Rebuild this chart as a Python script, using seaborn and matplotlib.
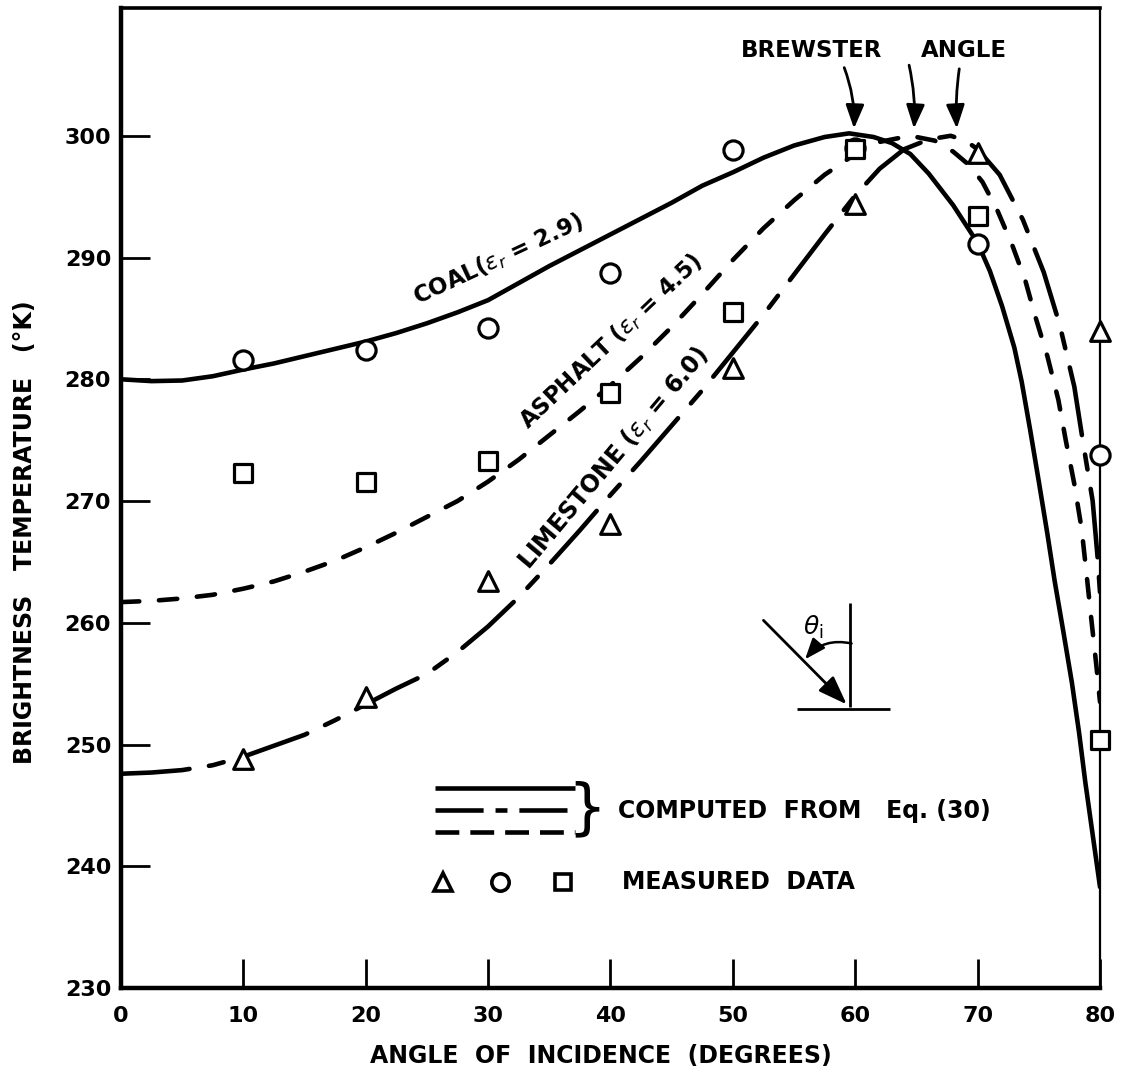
import matplotlib
matplotlib.use("Agg")
import matplotlib.pyplot as plt
from matplotlib.lines import Line2D
import seaborn as sns

# Computed brightness temperature, Eq. (30): angle of incidence (deg) -> K
coal_angle = [0, 2.5, 5, 7.5, 10, 12.5, 15, 17.5, 20, 22.5, 25, 27.5, 30, 32.5, 35,
              37.5, 40, 42.5, 45, 47.5, 50, 52.5, 55, 57.5, 59.5, 61.5, 63, 64.5, 66,
              68, 70, 71, 72, 73, 73.6, 74.3, 75, 75.7, 76.3, 77, 77.7, 78.3, 78.8,
              79.4, 80]
coal_temp = [280.0, 279.85, 279.9, 280.25, 280.8, 281.3, 281.9, 282.5, 283.1, 283.8,
             284.6, 285.5, 286.5, 287.9, 289.3, 290.6, 291.9, 293.2, 294.5, 295.9,
             297.0, 298.2, 299.2, 299.9, 300.2, 299.9, 299.4, 298.5, 296.9, 294.3,
             291.2, 288.9, 286.0, 282.6, 279.8, 275.8, 271.6, 267.3, 263.4, 259.3,
             255.1, 250.9, 246.9, 242.6, 238.3]

asphalt_angle = [0, 2.5, 5, 7.5, 10, 12.5, 15, 17.5, 20, 22.5, 25, 27.5, 30, 32.5, 35,
                 37.5, 40, 42.5, 45, 47.5, 50, 52.5, 55, 57.5, 60, 62, 64.5, 66.5, 68,
                 69.3, 70.4, 71.6, 72.8, 73.9, 74.7, 75.7, 76.6, 77.2, 77.9, 78.5, 78.9,
                 79.3, 79.7, 80]
asphalt_temp = [261.7, 261.8, 262.0, 262.3, 262.8, 263.4, 264.2, 265.1, 266.2, 267.4,
                268.7, 270.0, 271.6, 273.4, 275.4, 277.4, 279.5, 281.8, 284.3, 287.0,
                289.8, 292.4, 294.7, 296.8, 298.5, 299.5, 300.0, 299.6, 298.7, 297.6,
                296.2, 293.9, 291.1, 288.1, 285.2, 281.9, 278.3, 275.0, 271.4, 267.7,
                264.0, 260.2, 256.5, 253.5]

limestone_angle = [0, 2.5, 5, 7.5, 10, 12.5, 15, 17.5, 20, 22.5, 25, 27.5, 30, 32.5, 35,
                   37.5, 40, 42.5, 45, 47.5, 50, 52.5, 55, 57.5, 60, 62, 64, 66, 67.8,
                   69, 70, 71.8, 73.7, 75.4, 76.7, 77.9, 78.6, 79.4, 79.8, 80]
limestone_temp = [247.6, 247.7, 247.9, 248.3, 249.0, 249.9, 250.8, 252.0, 253.3, 254.6,
                  255.8, 257.6, 259.7, 262.1, 264.8, 267.6, 270.5, 273.3, 276.2, 279.1,
                  282.2, 285.3, 288.6, 291.9, 295.1, 297.3, 298.9, 299.7, 300.0, 299.6,
                  298.9, 296.8, 293.1, 288.8, 284.5, 279.4, 274.9, 270.0, 265.4, 262.5]

# Measured data
meas_angle = [10, 20, 30, 40, 50, 60, 70, 80]
coal_meas = [281.6, 282.4, 284.2, 288.7, 298.8, 299.0, 291.1, 273.8]
asphalt_meas = [272.3, 271.6, 273.3, 278.9, 285.5, 298.9, 293.4, 250.4]
limestone_meas = [248.8, 253.9, 263.4, 268.1, 280.9, 294.4, 298.6, 284.0]

x_ticks = [0, 10, 20, 30, 40, 50, 60, 70, 80]
y_ticks = [230, 240, 250, 260, 270, 280, 290, 300]

sns.set_style("white")
plt.rcParams["font.family"] = ["DejaVu Sans"]
plt.rcParams["mathtext.fontset"] = "dejavusans"
plt.rcParams["text.color"] = "black"
plt.rcParams["axes.labelcolor"] = "black"

INK = "black"
LW = 3.3
asphalt_dash = (0, (4.0, 4.3))
limestone_dash = (0, (15.0, 4.3, 3.3, 4.3))

fig = plt.figure(figsize=(11.22, 10.75), dpi=100)
ax = fig.add_axes([0.1078, 0.0809, 0.8726, 0.9117])

sns.lineplot(x=coal_angle, y=coal_temp, ax=ax, color=INK, lw=LW, sort=False,
             estimator=None, solid_capstyle="round", zorder=3)
sns.lineplot(x=asphalt_angle, y=asphalt_temp, ax=ax, color=INK, lw=LW, sort=False,
             estimator=None, linestyle=asphalt_dash, dash_capstyle="round", zorder=3)
sns.lineplot(x=limestone_angle, y=limestone_temp, ax=ax, color=INK, lw=LW, sort=False,
             estimator=None, linestyle=limestone_dash, dash_capstyle="round", zorder=3)

for vals, mk, size in [(coal_meas, "o", 190), (asphalt_meas, "s", 170),
                       (limestone_meas, "^", 200)]:
    sns.scatterplot(x=meas_angle, y=vals, ax=ax, marker=mk, s=size, color="white",
                    edgecolor=INK, linewidth=2.3, zorder=5, clip_on=False)

ax.set_xlim(0, 80)
ax.set_ylim(230, 310.5)
ax.set_xticks(x_ticks)
ax.set_yticks(y_ticks)
ax.set_xticklabels([str(v) for v in x_ticks], fontsize=16, fontweight="bold")
ax.set_yticklabels([str(v) for v in y_ticks], fontsize=16, fontweight="bold")
ax.tick_params(axis="both", direction="in", length=21, width=2.0, color=INK,
               labelcolor=INK, bottom=True, left=True, top=False, right=False)
ax.tick_params(axis="x", pad=13)
ax.tick_params(axis="y", pad=7)

for side, w in [("left", 3.2), ("bottom", 3.2), ("top", 2.6), ("right", 1.6)]:
    ax.spines[side].set_visible(True)
    ax.spines[side].set_linewidth(w)
    ax.spines[side].set_color(INK)

ax.set_xlabel("ANGLE  OF  INCIDENCE  (DEGREES)", fontsize=17, fontweight="bold",
              color=INK)
ax.xaxis.set_label_coords(0.49, -0.057)
ax.set_ylabel("BRIGHTNESS   TEMPERATURE   (°K)", fontsize=17, fontweight="bold",
              color=INK)
ax.yaxis.set_label_coords(-0.086, 0.465)

# curve labels
label_kw = dict(fontweight="bold", ha="center", va="center",
                rotation_mode="anchor", color=INK)
ax.text(30.8, 289.9, r"COAL($\epsilon_r$ = 2.9)", rotation=25, fontsize=16.5,
        **label_kw)
ax.text(40.0, 283.1, r"ASPHALT ($\epsilon_r$ = 4.5)", rotation=43.5, fontsize=16.5,
        **label_kw)
ax.text(40.3, 273.5, r"LIMESTONE ($\epsilon_r$ = 6.0)", rotation=50, fontsize=17,
        **label_kw)

# Brewster angle callouts
ax.text(56.4, 307.0, "BREWSTER", fontsize=16.5, fontweight="bold",
        ha="center", va="center", color=INK)
ax.text(68.9, 307.0, "ANGLE", fontsize=16.5, fontweight="bold",
        ha="center", va="center", color=INK)
arrow_kw = dict(arrowstyle="-|>,head_length=0.9,head_width=0.35", color=INK,
                lw=2.0, mutation_scale=16, shrinkA=0, shrinkB=0)
for (x0, y0, x1, y1, rad) in [(59.1, 305.6, 59.9, 300.6, -0.1),
                              (64.4, 305.8, 64.8, 300.6, -0.07),
                              (68.5, 305.5, 68.3, 300.6, 0.05)]:
    ax.annotate("", xy=(x1, y1), xytext=(x0, y0),
                arrowprops=dict(connectionstyle=f"arc3,rad={rad}", **arrow_kw))

# incidence-angle sketch
ax.plot([59.6, 59.6], [261.6, 253.1], color=INK, lw=2.0, solid_capstyle="butt")
ax.plot([55.2, 62.8], [252.9, 252.9], color=INK, lw=2.0, solid_capstyle="butt")
ax.annotate("", xy=(59.3, 253.3), xytext=(52.5, 260.2),
            arrowprops=dict(arrowstyle="-|>,head_length=1.1,head_width=0.4",
                            color=INK, lw=2.0, mutation_scale=16,
                            shrinkA=0, shrinkB=0))
ax.annotate("", xy=(55.9, 257.0), xytext=(59.7, 258.3),
            arrowprops=dict(arrowstyle="-|>,head_length=0.9,head_width=0.35",
                            connectionstyle="arc3,rad=0.3", color=INK, lw=1.8,
                            mutation_scale=14, shrinkA=0, shrinkB=0))
ax.text(56.6, 259.6, r"$\theta_{\rm i}$", fontsize=18, ha="center", va="center",
        color=INK)

# key
T = ax.transAxes
key_x = [0.321, 0.464]
ax.add_line(Line2D(key_x, [0.204, 0.204], transform=T, color=INK, lw=LW,
                   solid_capstyle="butt"))
ax.add_line(Line2D(key_x, [0.182, 0.182], transform=T, color=INK, lw=LW,
                   linestyle=(0, (10.5, 2.6, 2.6, 2.6)), dash_capstyle="butt"))
ax.add_line(Line2D(key_x, [0.159, 0.159], transform=T, color=INK, lw=LW,
                   linestyle=(0, (5.2, 2.4)), dash_capstyle="butt"))
ax.text(0.476, 0.182, "}", transform=T, fontsize=44, ha="center", va="center",
        color=INK)
ax.text(0.508, 0.181, "COMPUTED  FROM   Eq. (30)", transform=T, fontsize=17,
        fontweight="bold", ha="left", va="center", color=INK)
for xm, mk, ms in [(0.329, "^", 13), (0.387, "o", 12.5), (0.451, "s", 12)]:
    ax.add_line(Line2D([xm], [0.108], transform=T, marker=mk, markersize=ms,
                       markerfacecolor="white", markeredgecolor=INK,
                       markeredgewidth=2.6, linestyle="none"))
ax.text(0.512, 0.108, "MEASURED  DATA", transform=T, fontsize=17,
        fontweight="bold", ha="left", va="center", color=INK)

fig.savefig("out.png", dpi=100, facecolor="white")
